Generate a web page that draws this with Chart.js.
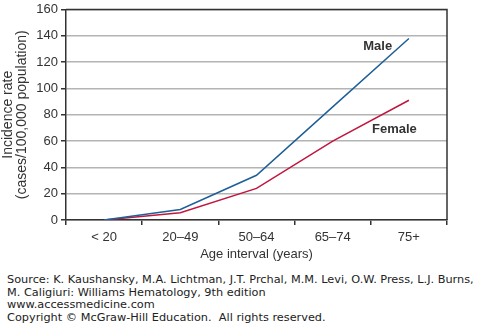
<!DOCTYPE html>
<html>
<head>
<meta charset="utf-8">
<script src="https://cdn.jsdelivr.net/npm/chart.js@4/dist/chart.umd.min.js"></script>
<style>
  html, body { margin: 0; padding: 0; background: #fff; }
  #wrap { position: relative; width: 478px; height: 326px; }
  #box { position: absolute; left: 0; top: 0; width: 478px; height: 264px; }
  #fonte {
    position: absolute; left: 7px; top: 274px;
    font-family: "DejaVu Sans", Verdana, sans-serif;
    font-size: 11.3px; line-height: 12.7px; color: #222;
    white-space: nowrap;
  }
</style>
</head>
<body>
<div id="wrap">
  <div id="box"><canvas id="grafico"></canvas></div>
  <div id="fonte">
    Source: K. Kaushansky, M.A. Lichtman, J.T. Prchal, M.M. Levi, O.W. Press, L.J. Burns,<br>
    M. Caligiuri: Williams Hematology, 9th edition<br>
    www.accessmedicine.com<br>
    Copyright © McGraw-Hill Education.&nbsp; All rights reserved.
  </div>
</div>
<script>
// faixas etárias e taxas (casos por 100.000)
const faixas = ['< 20', '20–49', '50–64', '65–74', '75+'];
const homens = [0, 8, 34, 86, 138];
const mulheres = [0, 5.5, 24, 60, 91];
const ticksY = [0, 20, 40, 60, 80, 100, 120, 140, 160];

const corHomem = '#1f5f98';
const corMulher = '#c0173f';
const corTexto = '#333';
const fonte = '"Liberation Sans", Arial, Helvetica, sans-serif';

// moldura (topo e lado direito) + rótulos das séries
const moldura = {
  id: 'moldura',
  afterDraw(chart) {
    const { ctx, chartArea: a, scales } = chart;
    ctx.save();
    ctx.strokeStyle = corTexto;
    ctx.lineWidth = 1.5;
    ctx.beginPath();
    ctx.moveTo(a.left, a.top);
    ctx.lineTo(a.right, a.top);
    ctx.lineTo(a.right, a.bottom);
    ctx.stroke();

    ctx.fillStyle = corTexto;
    ctx.font = 'bold 13px ' + fonte;
    ctx.textAlign = 'center';
    ctx.textBaseline = 'middle';
    ctx.fillText('Male', scales.x.getPixelForValue(3.59), scales.y.getPixelForValue(132));
    ctx.fillText('Female', scales.x.getPixelForValue(3.81), scales.y.getPixelForValue(69));
    ctx.restore();
  }
};

new Chart(document.getElementById('grafico'), {
  type: 'line',
  data: {
    labels: faixas,
    datasets: [
      { label: 'Male', data: homens, borderColor: corHomem, borderWidth: 1.5, pointRadius: 0, tension: 0 },
      { label: 'Female', data: mulheres, borderColor: corMulher, borderWidth: 1.5, pointRadius: 0, tension: 0 }
    ]
  },
  options: {
    responsive: true,
    maintainAspectRatio: false,
    animation: false,
    layout: { padding: { left: 0, top: 0, right: 31, bottom: 0 } },
    plugins: {
      legend: { display: false },
      tooltip: { enabled: false }
    },
    scales: {
      x: {
        offset: true,
        grid: { offset: true, drawOnChartArea: false, tickLength: 5, tickColor: corTexto, lineWidth: 1.5 },
        border: { color: corTexto, width: 1.5 },
        ticks: { color: corTexto, font: { family: fonte, size: 13 }, padding: 5, maxRotation: 0 },
        title: { display: true, text: 'Age interval (years)', color: corTexto, font: { family: fonte, size: 13 }, padding: { top: 2, bottom: 2 } },
        afterFit(s) { s.height = 44; }
      },
      y: {
        min: 0,
        max: 160,
        afterBuildTicks(s) { s.ticks = ticksY.map(v => ({ value: v })); },
        grid: { color: '#b4b4b4', lineWidth: 1.5, tickLength: 5, tickColor: corTexto },
        border: { color: corTexto, width: 1.5 },
        ticks: { color: corTexto, font: { family: fonte, size: 13, lineHeight: 1 }, padding: 3 },
        title: { display: true, text: ['Incidence rate', '(cases/100,000 population)'], color: corTexto, font: { family: fonte, size: 14, lineHeight: 1 }, padding: { top: 1, bottom: 0 } },
        afterFit(s) { s.width = 66; }
      }
    }
  },
  plugins: [moldura]
});
</script>
</body>
</html>
